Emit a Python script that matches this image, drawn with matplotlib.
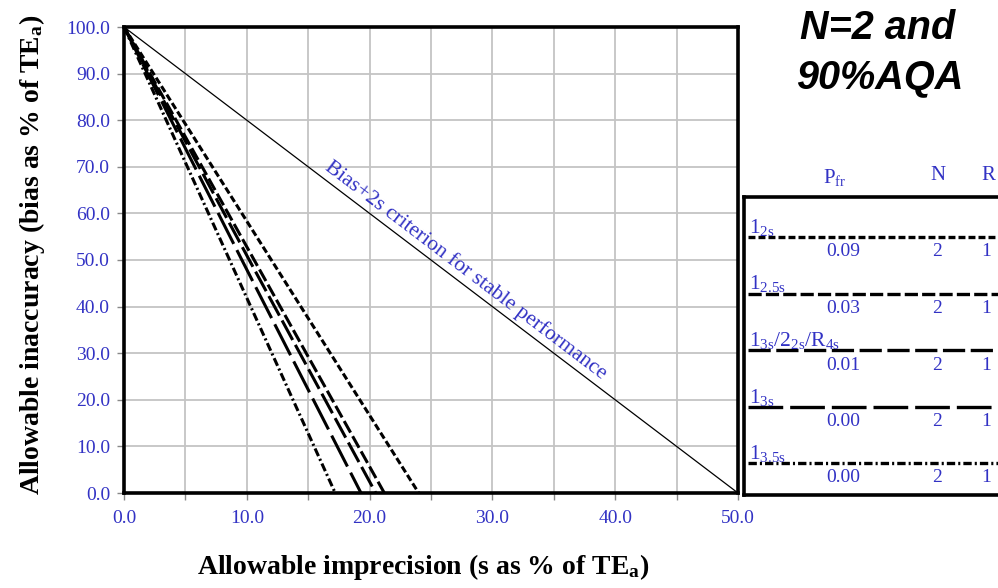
import matplotlib
matplotlib.use("Agg")
import matplotlib.pyplot as plt
from matplotlib.ticker import MultipleLocator, FormatStrFormatter

plt.rcParams['lines.scale_dashes'] = False
plt.rcParams['mathtext.default'] = 'regular'

# ---------------- data ----------------
rules = ["1$_{2s}$", "1$_{2.5s}$", "1$_{3s}$/2$_{2s}$/R$_{4s}$", "1$_{3s}$", "1$_{3.5s}$"]
p_fr = ["0.09", "0.03", "0.01", "0.00", "0.00"]
n_vals = ["2", "2", "2", "2", "2"]
r_vals = ["1", "1", "1", "1", "1"]

bias_pts = [100, 50, 0]
s_12s = [0.0, 12.0, 24.0]
s_125s = [0.0, 10.6, 21.2]
s_multi = [0.0, 10.2, 20.5]
s_13s = [0.0, 9.6, 19.3]
s_135s = [0.0, 8.6, 17.2]
series = [s_12s, s_125s, s_multi, s_13s, s_135s]

crit_s = [0.0, 50.0]
crit_bias = [100.0, 0.0]

# ---------------- style ----------------
BLUE = '#3232c4'
SERIF = ['Liberation Serif', 'DejaVu Serif']
dash_styles = [
    (0, (5.0, 2.2)),
    (0, (9.5, 3.0)),
    (0, (16.0, 4.0)),
    (0, (25.0, 5.0)),
    (0, (6.0, 2.2, 1.5, 2.2)),
]

W, H = 998, 588
fig = plt.figure(figsize=(W / 100, H / 100), dpi=100)
ax = fig.add_axes([124 / W, 1 - 493 / H, (738 - 124) / W, (493 - 27) / H])

ax.set_xlim(0, 50)
ax.set_ylim(0, 100)
ax.xaxis.set_major_locator(MultipleLocator(10))
ax.xaxis.set_minor_locator(MultipleLocator(5))
ax.yaxis.set_major_locator(MultipleLocator(10))
ax.xaxis.set_major_formatter(FormatStrFormatter('%.1f'))
ax.yaxis.set_major_formatter(FormatStrFormatter('%.1f'))
ax.grid(True, which='both', axis='x', color='#c4c4c4', lw=1.3)
ax.grid(True, which='major', axis='y', color='#c4c4c4', lw=1.3)
ax.set_axisbelow(True)
ax.tick_params(axis='both', which='both', direction='out', length=5, width=1.0,
               color='#888888', labelsize=14, labelcolor=BLUE)
ax.tick_params(axis='x', pad=7)
ax.tick_params(axis='y', pad=5)
for lab in ax.get_xticklabels() + ax.get_yticklabels():
    lab.set_fontfamily(SERIF)
for sp in ax.spines.values():
    sp.set_linewidth(2.6)
    sp.set_color('black')

ax.plot(crit_s, crit_bias, color='black', lw=0.9, zorder=3)
for s_vals, ls in zip(series, dash_styles):
    ax.plot(s_vals, bias_pts, color='black', lw=2.2, linestyle=ls, zorder=4)

ax.text(27.3, 46.0, "Bias+2s criterion for stable performance", rotation=-37.2,
        rotation_mode='anchor', ha='center', va='bottom', color=BLUE,
        fontsize=15.5, family=SERIF)

fig.text(423 / W, 1 - 567 / H, "Allowable imprecision (s as % of TE$_a$)",
         ha='center', va='center', fontsize=20, fontweight='bold',
         family=SERIF, color='black')
fig.text(32 / W, 1 - 255 / H, "Allowable inaccuracy (bias as % of TE$_a$)",
         ha='center', va='center', rotation=90, fontsize=20,
         fontweight='bold', family=SERIF, color='black')

# title
TFONT = ['Liberation Sans', 'DejaVu Sans']
fig.text(878 / W, 1 - 28 / H, "N=2 and", ha='center', va='center', fontsize=28.5,
         fontweight='bold', fontstyle='italic', family=TFONT)
fig.text(880 / W, 1 - 78 / H, "90%AQA", ha='center', va='center', fontsize=28.5,
         fontweight='bold', fontstyle='italic', family=TFONT)

# legend table
box_l, box_t, box_b = 744, 197, 495
lax = fig.add_axes([box_l / W, 1 - box_b / H, (W + 20 - box_l) / W, (box_b - box_t) / H])
lax.set_xlim(box_l, W + 20)
lax.set_ylim(box_b, box_t)
lax.set_xticks([])
lax.set_yticks([])
for sp in lax.spines.values():
    sp.set_linewidth(2.6)
lax.patch.set_alpha(0)

hdr_y = 178
fig.text(835 / W, 1 - hdr_y / H, "P$_{fr}$", ha='center', va='center', fontsize=15,
         color=BLUE, family=SERIF)
fig.text(938 / W, 1 - 175 / H, "N", ha='center', va='center', fontsize=15,
         color=BLUE, family=SERIF)
fig.text(988 / W, 1 - 175 / H, "R", ha='center', va='center', fontsize=15,
         color=BLUE, family=SERIF)

row0, row_step = 237, 56.5
for i, (lab, ls) in enumerate(zip(rules, dash_styles)):
    y = row0 + i * row_step
    lax.plot([box_l + 4, W + 20], [y, y], color='black', lw=2.4, linestyle=ls)
    lax.text(box_l + 5, y - 4, lab, ha='left', va='baseline', fontsize=15.5,
             color=BLUE, family=SERIF)
    lax.text(843, y + 15, p_fr[i], ha='center', va='center', fontsize=14,
             color=BLUE, family=SERIF)
    lax.text(937, y + 15, n_vals[i], ha='center', va='center', fontsize=14,
             color=BLUE, family=SERIF)
    lax.text(986, y + 15, r_vals[i], ha='center', va='center', fontsize=14,
             color=BLUE, family=SERIF)

fig.savefig("out.png", dpi=100)
